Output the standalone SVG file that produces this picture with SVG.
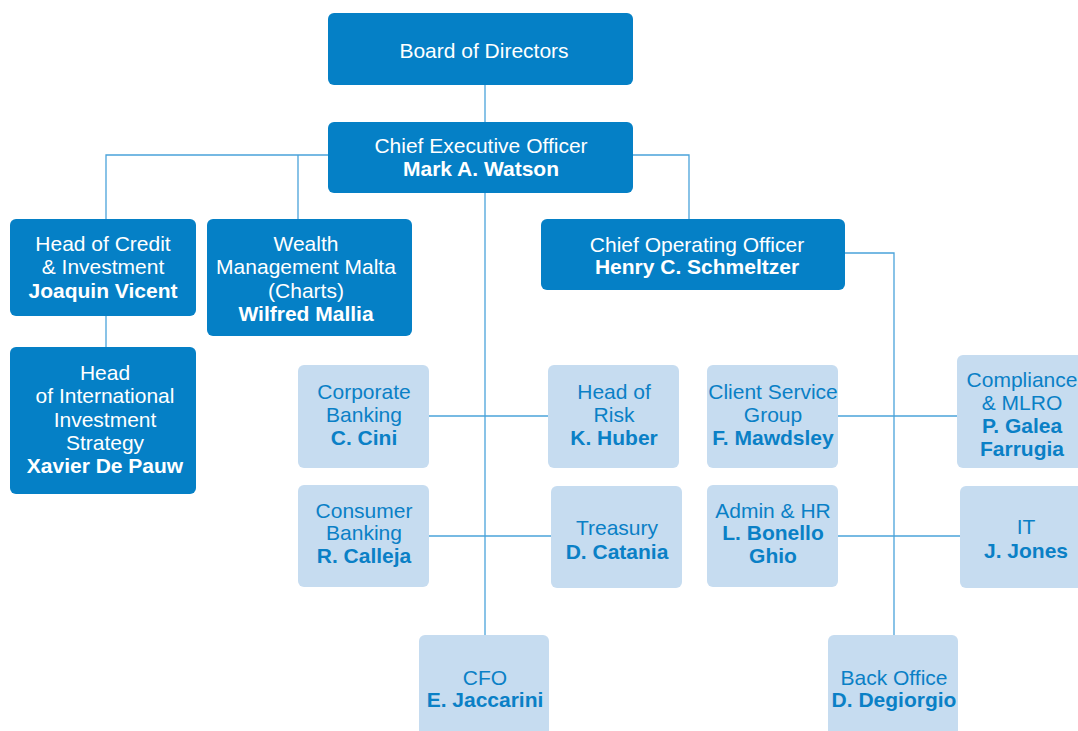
<svg xmlns="http://www.w3.org/2000/svg" width="1078" height="731" viewBox="0 0 1078 731">
<style>
.d{fill:#0580C6}
.l{fill:#C6DCF0}
text{font-family:"Liberation Sans",Arial,sans-serif;font-size:21px;text-anchor:middle}
.dt{fill:#FFFFFF}
.lt{fill:#0A80C6}
.b{font-weight:bold}
.c{stroke:#4AA3DA;stroke-width:1.3;fill:none}
</style>
<rect width="1078" height="731" fill="#FFFFFF"/>
<g id="connectors" class="c">
<path d="M485,85V122"/>
<path d="M485,193V635"/>
<path d="M328,155H106V219M298,155V219"/>
<path d="M633,155H689V219"/>
<path d="M106,316V347"/>
<path d="M845,253H894V635"/>
<path d="M429,416H548"/>
<path d="M429,536H551"/>
<path d="M838,416H957"/>
<path d="M838,536H960"/>
</g>
<g id="board"><rect class="d" x="328" y="13" width="305" height="72" rx="6"/><text class="dt" x="484" y="58">Board of Directors</text></g>
<g id="ceo"><rect class="d" x="328" y="122" width="305" height="71" rx="6"/><text class="dt" x="481" y="153">Chief Executive Officer</text><text class="dt b" x="481" y="176">Mark A. Watson</text></g>
<g id="credit"><rect class="d" x="10" y="219" width="186" height="97" rx="6"/><text class="dt" x="103" y="251">Head of Credit</text><text class="dt" x="103" y="274">&amp; Investment</text><text class="dt b" x="103" y="298">Joaquin Vicent</text></g>
<g id="wealth"><rect class="d" x="207" y="219" width="205" height="117" rx="6"/><text class="dt" x="306" y="251">Wealth</text><text class="dt" x="306" y="274">Management Malta</text><text class="dt" x="306" y="298">(Charts)</text><text class="dt b" x="306" y="321">Wilfred Mallia</text></g>
<g id="intl"><rect class="d" x="10" y="347" width="186" height="147" rx="6"/><text class="dt" x="105" y="380">Head</text><text class="dt" x="105" y="403">of International</text><text class="dt" x="105" y="427">Investment</text><text class="dt" x="105" y="450">Strategy</text><text class="dt b" x="105" y="473">Xavier De Pauw</text></g>
<g id="coo"><rect class="d" x="541" y="219" width="304" height="71" rx="6"/><text class="dt" x="697" y="252">Chief Operating Officer</text><text class="dt b" x="697" y="274">Henry C. Schmeltzer</text></g>
<g id="corporate"><rect class="l" x="298" y="365" width="131" height="103" rx="6"/><text class="lt" x="364" y="399">Corporate</text><text class="lt" x="364" y="422">Banking</text><text class="lt b" x="364" y="445">C. Cini</text></g>
<g id="risk"><rect class="l" x="548" y="365" width="131" height="103" rx="6"/><text class="lt" x="614" y="399">Head of</text><text class="lt" x="614" y="422">Risk</text><text class="lt b" x="614" y="445">K. Huber</text></g>
<g id="consumer"><rect class="l" x="298" y="485" width="131" height="102" rx="6"/><text class="lt" x="364" y="518">Consumer</text><text class="lt" x="364" y="540">Banking</text><text class="lt b" x="364" y="563">R. Calleja</text></g>
<g id="treasury"><rect class="l" x="551" y="486" width="131" height="102" rx="6"/><text class="lt" x="617" y="535">Treasury</text><text class="lt b" x="617" y="559">D. Catania</text></g>
<g id="client"><rect class="l" x="707" y="365" width="131" height="103" rx="6"/><text class="lt" x="773" y="399">Client Service</text><text class="lt" x="773" y="422">Group</text><text class="lt b" x="773" y="445">F. Mawdsley</text></g>
<g id="compliance"><rect class="l" x="957" y="355" width="135" height="113" rx="6"/><text class="lt" x="1022" y="387">Compliance</text><text class="lt" x="1022" y="410">&amp; MLRO</text><text class="lt b" x="1022" y="433">P. Galea</text><text class="lt b" x="1022" y="456">Farrugia</text></g>
<g id="admin"><rect class="l" x="707" y="485" width="131" height="102" rx="6"/><text class="lt" x="773" y="518">Admin &amp; HR</text><text class="lt b" x="773" y="540">L. Bonello</text><text class="lt b" x="773" y="563">Ghio</text></g>
<g id="it"><rect class="l" x="960" y="486" width="135" height="102" rx="6"/><text class="lt" x="1026" y="534">IT</text><text class="lt b" x="1026" y="558">J. Jones</text></g>
<g id="cfo"><rect class="l" x="419" y="635" width="130" height="106" rx="6"/><text class="lt" x="485" y="685">CFO</text><text class="lt b" x="485" y="707">E. Jaccarini</text></g>
<g id="backoffice"><rect class="l" x="828" y="635" width="130" height="106" rx="6"/><text class="lt" x="894" y="685">Back Office</text><text class="lt b" x="894" y="707">D. Degiorgio</text></g>
</svg>
